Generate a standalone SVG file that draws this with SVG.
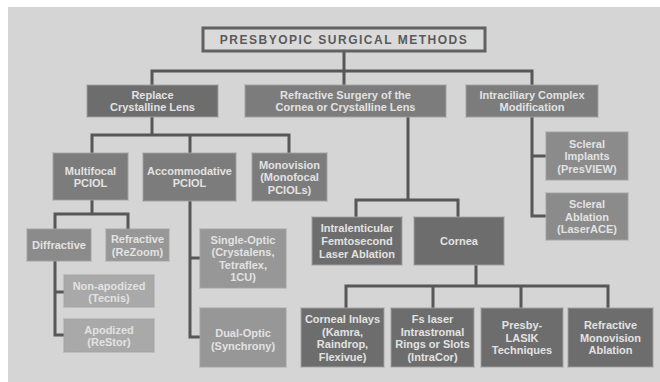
<svg xmlns="http://www.w3.org/2000/svg" width="660" height="382" viewBox="0 0 660 382">
<style>
.bx{stroke:#a2a2a2;stroke-opacity:0.45;stroke-width:2}
.t{font-family:"Liberation Sans",Arial,sans-serif;font-size:11px;font-weight:bold;fill:#e2e2e2;text-anchor:middle}
.c{fill:none;stroke:#575757;stroke-width:3;stroke-linecap:square}
.d1{fill:#6d6d6d}.d2{fill:#7c7c7c}.d3{fill:#8b8b8b}.d4{fill:#979797}.d5{fill:#a9a9a9}
</style>
<rect x="0" y="0" width="660" height="382" fill="#ffffff"/>
<rect x="8" y="7" width="652" height="375" fill="#d5d5d5"/>
<g id="connectors" class="c">
<path d="M344,51 V71"/>
<path d="M152,85 V71 H532 V85 M344,71 V85"/>
<path d="M152,117 V135 M92,153 V135 H289 V153 M190,135 V153"/>
<path d="M92,200 V214 M55,229 V214 H128 V229"/>
<path d="M55,261 V335 H65 M55,292 H65"/>
<path d="M190,201 V337 H200 M190,258 H200"/>
<path d="M408,117 V200 M356,217 V200 H458 V217"/>
<path d="M476,265 V286 M346,308 V286 H608 V308 M433,286 V308 M521,286 V308"/>
<path d="M532,117 V216 H546 M532,156 H546"/>
</g>
<g id="title">
<rect x="203" y="28" width="282" height="23" fill="#dadada" stroke="#616161" stroke-width="3"/>
<text x="344" y="44" font-family="Liberation Sans,Arial,sans-serif" font-size="12" font-weight="bold" fill="#5a5a5a" text-anchor="middle" letter-spacing="1.5">PRESBYOPIC SURGICAL METHODS</text>
</g>
<g id="replace"><rect class="bx d1" x="87" y="85" width="131" height="32"/><text class="t" x="152.5" y="99">Replace</text><text class="t" x="152.5" y="111">Crystalline Lens</text></g>
<g id="refractive-surgery"><rect class="bx d2" x="245" y="85" width="201" height="32"/><text class="t" x="345.5" y="99">Refractive Surgery of the</text><text class="t" x="345.5" y="111">Cornea or Crystalline Lens</text></g>
<g id="intraciliary"><rect class="bx d2" x="466" y="85" width="132" height="32"/><text class="t" x="532" y="99">Intraciliary Complex</text><text class="t" x="532" y="111">Modification</text></g>
<g id="multifocal"><rect class="bx d2" x="53" y="153" width="75" height="47"/><text class="t" x="90.5" y="174.5">Multifocal</text><text class="t" x="90.5" y="186.5">PCIOL</text></g>
<g id="accommodative"><rect class="bx d2" x="143" y="153" width="93" height="48"/><text class="t" x="189.5" y="174.5">Accommodative</text><text class="t" x="189.5" y="186.5">PCIOL</text></g>
<g id="monovision"><rect class="bx d2" x="252" y="153" width="75" height="48"/><text class="t" x="289.5" y="168.5">Monovision</text><text class="t" x="289.5" y="181">(Monofocal</text><text class="t" x="289.5" y="193.5">PCIOLs)</text></g>
<g id="diffractive"><rect class="bx d3" x="27" y="229" width="64" height="32"/><text class="t" x="59" y="249">Diffractive</text></g>
<g id="refractive-rezoom"><rect class="bx d4" x="106" y="229" width="63" height="32"/><text class="t" x="137.5" y="243">Refractive</text><text class="t" x="137.5" y="255.5">(ReZoom)</text></g>
<g id="non-apodized"><rect class="bx d5" x="64" y="275" width="90" height="32"/><text class="t" x="109" y="289.5">Non-apodized</text><text class="t" x="109" y="301.5">(Tecnis)</text></g>
<g id="apodized"><rect class="bx d5" x="64" y="319" width="90" height="33"/><text class="t" x="109" y="334">Apodized</text><text class="t" x="109" y="346">(ReStor)</text></g>
<g id="single-optic"><rect class="bx d4" x="200" y="229" width="86" height="59"/><text class="t" x="243" y="243.5">Single-Optic</text><text class="t" x="243" y="256">(Crystalens,</text><text class="t" x="243" y="268.5">Tetraflex,</text><text class="t" x="243" y="281">1CU)</text></g>
<g id="dual-optic"><rect class="bx d4" x="200" y="308" width="86" height="59"/><text class="t" x="243" y="337">Dual-Optic</text><text class="t" x="243" y="349.5">(Synchrony)</text></g>
<g id="intralenticular"><rect class="bx d1" x="312" y="217" width="90" height="48"/><text class="t" x="357" y="232">Intralenticular</text><text class="t" x="357" y="245">Femtosecond</text><text class="t" x="357" y="258">Laser Ablation</text></g>
<g id="cornea"><rect class="bx d1" x="414" y="217" width="90" height="48"/><text class="t" x="459" y="245">Cornea</text></g>
<g id="corneal-inlays"><rect class="bx d1" x="301" y="308" width="83" height="59"/><text class="t" x="342.5" y="323">Corneal Inlays</text><text class="t" x="342.5" y="335.5">(Kamra,</text><text class="t" x="342.5" y="348">Raindrop,</text><text class="t" x="342.5" y="360.5">Flexivue)</text></g>
<g id="fs-laser"><rect class="bx d1" x="391" y="308" width="83" height="59"/><text class="t" x="432.5" y="323">Fs laser</text><text class="t" x="432.5" y="335.5">Intrastromal</text><text class="t" x="432.5" y="348">Rings or Slots</text><text class="t" x="432.5" y="360.5">(IntraCor)</text></g>
<g id="presbylasik"><rect class="bx d1" x="481" y="308" width="82" height="59"/><text class="t" x="522" y="329">Presby-</text><text class="t" x="522" y="341.5">LASIK</text><text class="t" x="522" y="354">Techniques</text></g>
<g id="refractive-monovision"><rect class="bx d1" x="568" y="308" width="85" height="59"/><text class="t" x="610.5" y="329">Refractive</text><text class="t" x="610.5" y="341.5">Monovision</text><text class="t" x="610.5" y="354">Ablation</text></g>
<g id="scleral-implants"><rect class="bx d3" x="546" y="132" width="82" height="48"/><text class="t" x="587" y="147.5">Scleral</text><text class="t" x="587" y="160">Implants</text><text class="t" x="587" y="172.5">(PresVIEW)</text></g>
<g id="scleral-ablation"><rect class="bx d3" x="546" y="193" width="82" height="47"/><text class="t" x="587" y="208">Scleral</text><text class="t" x="587" y="220.5">Ablation</text><text class="t" x="587" y="233">(LaserACE)</text></g>
</svg>
